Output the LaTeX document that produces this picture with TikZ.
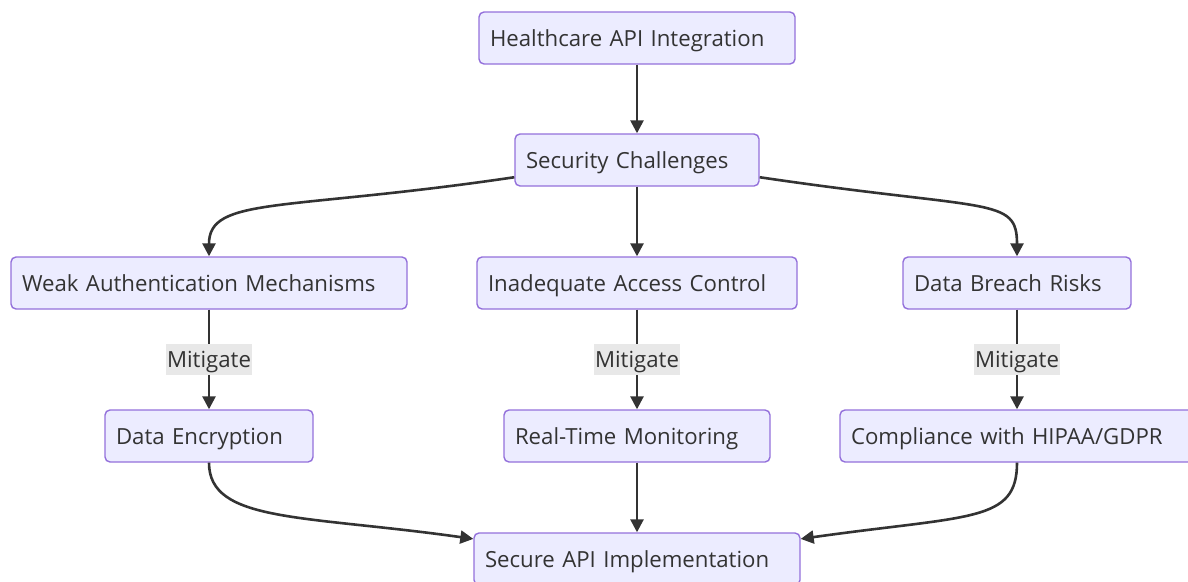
\documentclass[tikz,border=0pt]{standalone}
\usepackage{fontspec}
\setmainfont{Open Sans}
\usetikzlibrary{arrows.meta}
\definecolor{boxfill}{HTML}{ECECFF}
\definecolor{boxline}{HTML}{9370DB}
\definecolor{ink}{HTML}{333333}
\definecolor{tagfill}{HTML}{E8E8E8}
\begin{document}
\begin{tikzpicture}[x=1pt, y=-1pt,
  box/.style={draw=boxline, fill=boxfill, line width=1.4pt, rounded corners=5pt,
    text=ink, align=left, inner xsep=11pt, inner ysep=0pt, minimum height=52pt,
    text height=19pt, text depth=3pt, font=\fontsize{22.2}{26}\selectfont},
  link/.style={draw=ink, line width=2.6pt, -{Triangle[length=13pt,width=13pt]}},
  tag/.style={fill=tagfill, text=ink, inner xsep=1pt, inner ysep=4.5pt,
    text height=19pt, text depth=3pt, font=\fontsize{22.2}{26}\selectfont}]
\useasboundingbox (0,0) rectangle (1188,581);
% top
\node[box, text width=294pt] (hai) at (637,38) {Healthcare API Integration};
\node[box, text width=222pt] (sc) at (637,160) {Security Challenges};
% risks
\node[box, text width=374pt] (wam) at (209,283) {Weak Authentication Mechanisms};
\node[box, text width=298pt] (iac) at (637,283) {Inadequate Access Control};
\node[box, text width=206pt] (dbr) at (1017,283) {Data Breach Risks};
% measures
\node[box, text width=186pt] (de) at (209,436) {Data Encryption};
\node[box, text width=244pt] (rtm) at (637,436) {Real-Time Monitoring};
\node[box, text width=332pt] (cwh) at (1017,436) {Compliance with HIPAA/GDPR};
% result
\node[box, text width=304pt] (sai) at (637,559) {Secure API Implementation};
% links
\draw[link] (hai) -- (sc);
\draw[link] (sc.188) .. controls +(-230,34) and +(0,-60) .. (wam.north);
\draw[link] (sc) -- (iac);
\draw[link] (sc.352) .. controls +(230,34) and +(0,-60) .. (dbr.north);
\draw[link] (wam) -- node[tag] {Mitigate} (de);
\draw[link] (iac) -- node[tag] {Mitigate} (rtm);
\draw[link] (dbr) -- node[tag] {Mitigate} (cwh);
\draw[link] (de.south) .. controls +(0,60) and +(-170,-24) .. (sai.173);
\draw[link] (rtm) -- (sai);
\draw[link] (cwh.south) .. controls +(0,60) and +(170,-24) .. (sai.7);
\end{tikzpicture}
\end{document}
